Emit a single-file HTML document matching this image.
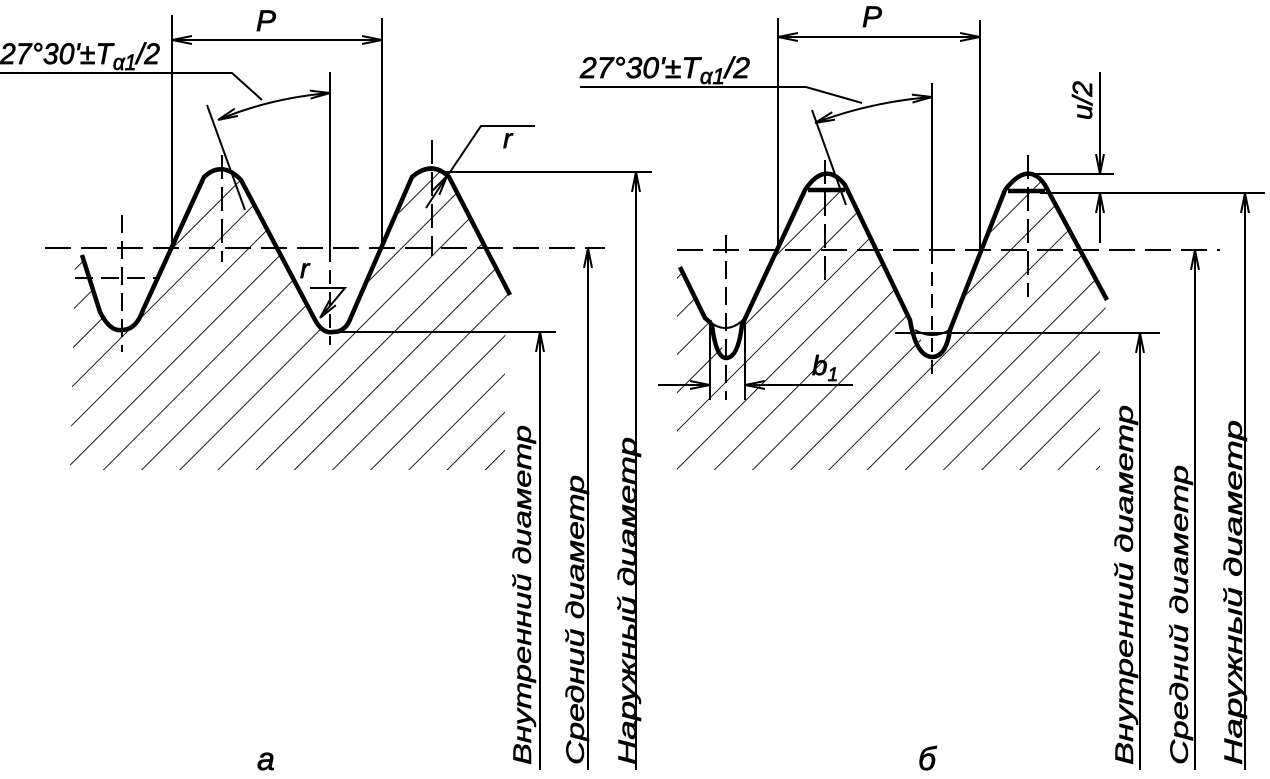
<!DOCTYPE html>
<html><head><meta charset="utf-8"><style>html,body{margin:0;padding:0;background:#fff}svg{display:block}</style></head>
<body>
<svg width="1270" height="779" viewBox="0 0 1270 779" xmlns="http://www.w3.org/2000/svg" font-family="Liberation Sans, DejaVu Sans, sans-serif" font-style="italic">
<defs>
<pattern id="h" width="27" height="27" patternUnits="userSpaceOnUse" patternTransform="rotate(45)">
<line x1="0" y1="0" x2="0" y2="27" stroke="#000" stroke-width="1.8"/>
</pattern>
<clipPath id="cl"><path d="M75,262 L82,255 L100,312 Q110,332 122,330 Q136,330 143,310 L204,177 Q222,160 241,180 L314,318 Q322,334 333,332 Q346,332 351,317 L412,177 Q432,160 449,177 L510,295 L505,340 L505,470 L70,470 Z"/></clipPath>
<clipPath id="cr"><path d="M677,275 L680,267 L705,318 L712,320 L726,358 L745,320 L805,190 Q825,160 845,185 L915,330 L932,357 L950,330 L1005,190 Q1028,160 1045,185 L1107,300 L1100,340 L1100,470 L677,470 Z"/></clipPath>
<marker id="a" viewBox="0 0 20 10" refX="20" refY="5" markerWidth="20" markerHeight="10" markerUnits="userSpaceOnUse" orient="auto-start-reverse"><path d="M0,1 L20,5 L0,9" fill="none" stroke="#000" stroke-width="2"/></marker>
</defs>
<g fill="none" stroke="#000">
<rect x="60" y="150" width="460" height="330" fill="url(#h)" stroke="none" clip-path="url(#cl)"/>
<rect x="670" y="150" width="440" height="330" fill="url(#h)" stroke="none" clip-path="url(#cr)"/>

<g stroke-width="2">
<line x1="172" y1="15" x2="172" y2="250"/>
<line x1="382" y1="18" x2="382" y2="246"/>
<line x1="172" y1="40" x2="382" y2="40" marker-start="url(#a)" marker-end="url(#a)"/>
<polyline points="0,73 232,73 262,100"/>
<path d="M218,120 Q270,98 330,93" marker-start="url(#a)" marker-end="url(#a)"/>
<line x1="330" y1="72" x2="330" y2="248"/>
<line x1="330" y1="248" x2="330" y2="345" stroke-dasharray="14,8"/>
<line x1="207" y1="105" x2="245" y2="210"/>
<line x1="45" y1="248" x2="605" y2="248" stroke-dasharray="26,10"/>
<line x1="75" y1="278" x2="160" y2="278" stroke-dasharray="18,8"/>
<line x1="122" y1="215" x2="122" y2="352" stroke-dasharray="18,8"/>
<line x1="222" y1="155" x2="222" y2="262" stroke-dasharray="24,8"/>
<line x1="432" y1="140" x2="432" y2="256" stroke-dasharray="24,8"/>
<line x1="440" y1="172" x2="652" y2="172"/>
<line x1="330" y1="332" x2="556" y2="332"/>
<line x1="540" y1="770" x2="540" y2="332" marker-end="url(#a)"/>
<line x1="588" y1="770" x2="588" y2="248" marker-end="url(#a)"/>
<line x1="636" y1="770" x2="636" y2="172" marker-end="url(#a)"/>
<polyline points="535,126 481,126 446,178"/>
<line x1="447" y1="176" x2="426" y2="208" marker-start="url(#a)"/>
<polyline points="310,288 345,288 320,318" marker-end="url(#a)"/>
</g>
<path d="M82,255 L100,312 Q110,332 122,330 Q136,330 143,310 L204,177 Q222,160 241,180 L314,318 Q322,334 333,332 Q346,332 351,317 L412,177 Q432,160 449,177 L510,295" stroke-width="4.5"/>

<g stroke-width="2">
<line x1="778" y1="18" x2="778" y2="250"/>
<line x1="980" y1="20" x2="980" y2="250"/>
<line x1="778" y1="37" x2="980" y2="37" marker-start="url(#a)" marker-end="url(#a)"/>
<polyline points="580,87 806,87 862,103"/>
<path d="M815,123 Q870,102 932,97" marker-start="url(#a)" marker-end="url(#a)"/>
<line x1="932" y1="83" x2="932" y2="250"/>
<line x1="932" y1="250" x2="932" y2="382" stroke-dasharray="14,8"/>
<line x1="812" y1="110" x2="846" y2="205"/>
<line x1="677" y1="250" x2="1220" y2="250" stroke-dasharray="26,10"/>
<line x1="726" y1="235" x2="726" y2="400" stroke-dasharray="18,8"/>
<line x1="825" y1="160" x2="825" y2="285" stroke-dasharray="24,8"/>
<line x1="1028" y1="155" x2="1028" y2="297" stroke-dasharray="24,8"/>
<path d="M705,318 Q726,338 745,318"/>
<path d="M915,330 Q932,340 950,330"/>
<line x1="1028" y1="174" x2="1114" y2="174"/>
<line x1="1040" y1="193" x2="1265" y2="193"/>
<line x1="895" y1="333" x2="1160" y2="333"/>
<line x1="1100" y1="72" x2="1100" y2="174" marker-end="url(#a)"/>
<line x1="1100" y1="243" x2="1100" y2="193" marker-end="url(#a)"/>
<line x1="710" y1="320" x2="710" y2="400"/>
<line x1="745" y1="320" x2="745" y2="400"/>
<line x1="658" y1="385" x2="710" y2="385" marker-end="url(#a)"/>
<line x1="853" y1="385" x2="745" y2="385" marker-end="url(#a)"/>
<line x1="1140" y1="770" x2="1140" y2="333" marker-end="url(#a)"/>
<line x1="1195" y1="770" x2="1195" y2="250" marker-end="url(#a)"/>
<line x1="1245" y1="770" x2="1245" y2="193" marker-end="url(#a)"/>
</g>
<path d="M680,267 L705,318 Q710,322 712,325 Q716,358 726,358 Q738,358 742,325 L805,190 Q825,160 845,185 L910,320 Q916,356 932,357 Q946,357 950,330 L1005,190 Q1028,160 1045,185 L1107,300" stroke-width="4.5"/>
<line x1="808" y1="190" x2="845" y2="190" stroke-width="4.5"/>
<line x1="1008" y1="191" x2="1045" y2="191" stroke-width="4.5"/>
</g>

<g fill="#000" stroke="#000" stroke-width="0.7" font-size="28">
<text x="0" y="64" font-size="30" textLength="160" lengthAdjust="spacingAndGlyphs">27°30'±T<tspan font-size="22" dy="6">α1</tspan><tspan dy="-6">/2</tspan></text>
<text x="256" y="31" font-size="30">P</text>
<text x="503" y="148">r</text>
<text x="300" y="278">r</text>
<text x="257" y="770" font-size="32">a</text>
<text x="580" y="78" font-size="30" textLength="170" lengthAdjust="spacingAndGlyphs">27°30'±T<tspan font-size="22" dy="6">α1</tspan><tspan dy="-6">/2</tspan></text>
<text x="862" y="27" font-size="30">P</text>
<text x="812" y="375">b<tspan font-size="19" dy="6">1</tspan></text>
<text transform="translate(1092,120) rotate(-90)">u/2</text>
<text x="918" y="770" font-size="32">б</text>
<g font-size="25" stroke-width="0.5">
<text transform="translate(531,765) rotate(-90)" textLength="340" lengthAdjust="spacingAndGlyphs">Внутренний диаметр</text>
<text transform="translate(584,765) rotate(-90)" textLength="290" lengthAdjust="spacingAndGlyphs">Средний диаметр</text>
<text transform="translate(636,765) rotate(-90)" textLength="328" lengthAdjust="spacingAndGlyphs">Наружный диаметр</text>
<text transform="translate(1133,765) rotate(-90)" textLength="360" lengthAdjust="spacingAndGlyphs">Внутренний диаметр</text>
<text transform="translate(1188,765) rotate(-90)" textLength="300" lengthAdjust="spacingAndGlyphs">Средний диаметр</text>
<text transform="translate(1242,765) rotate(-90)" textLength="345" lengthAdjust="spacingAndGlyphs">Наружный диаметр</text>
</g>
</g>
</svg>
</body></html>
